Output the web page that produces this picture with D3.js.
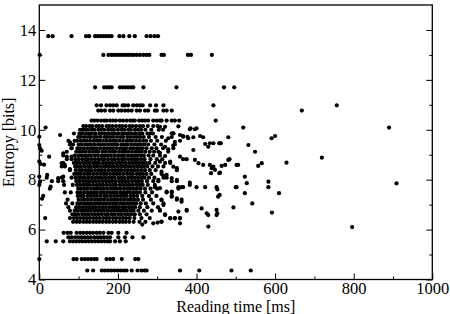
<!DOCTYPE html>
<html>
<head>
<meta charset="utf-8">
<script src="https://cdn.jsdelivr.net/npm/d3@7"></script>
<style>
  body { margin: 0; background: #fff; }
  text { font-family: "Liberation Serif", "Times New Roman", serif; }
</style>
</head>
<body>
<svg id="chart" width="450" height="314"></svg>
<script>
// tick labels
const xTicks = [0, 200, 400, 600, 800, 1000];
const xMinor = [100, 300, 500, 700, 900];
const yTicks = [4, 6, 8, 10, 12, 14];
const yMinor = [5, 7, 9, 11, 13];

const rowEntropy = [
  13.75, 13.0, 11.7, 10.98, 10.77, 10.37,
  10.15, 10.00, 9.85, 9.71, 9.56, 9.41, 9.26, 9.12, 8.97, 8.82, 8.67, 8.53, 8.38, 8.23,
  8.08, 7.94, 7.79, 7.64, 7.49, 7.35, 7.20, 7.05, 6.90, 6.76, 6.61, 6.46, 6.31,
  5.87, 5.69, 5.53, 4.82, 4.36
];
const rowTimes = [
  [23, 34, 82, 119, 127, 142, 149, 156, 163, 170, 177, 184, 204, 214, 229, 243, 273, 283, 293, 302],
  [1, 163, 176, 184, 191, 198, 205, 212, 219, 226, 233, 240, 248, 256, 265, 273, 280, 311, 317, 378, 386, 439],
  [142, 165, 172, 178, 184, 205, 212, 219, 226, 233, 239, 265, 349, 470, 496],
  [146, 157, 171, 180, 188, 197, 212, 218, 226, 239, 248, 256, 263, 282, 297, 316, 443, 757],
  [150, 158, 167, 180, 188, 201, 209, 218, 226, 235, 248, 256, 269, 277, 294, 299, 316, 324, 337, 668],
  [133, 140, 148, 157, 165, 171, 180, 188, 195, 205, 213, 222, 231, 237, 243, 254, 262, 269, 277, 290, 299, 307, 311, 324, 337, 345, 356, 449],
  [112, 119, 128, 135, 145, 152, 160, 171, 178, 186, 195, 204, 211, 220, 230, 237, 246, 256, 264, 276, 290, 301],
  [104, 110, 117, 124, 133, 140, 150, 158, 165, 175, 183, 190, 200, 209, 216, 226, 233, 243, 251, 259, 270, 285, 304, 315],
  [88, 102, 110, 119, 127, 134, 143, 153, 160, 168, 177, 186, 193, 202, 211, 219, 227, 236, 245, 254, 262, 275, 282, 289, 341],
  [99, 106, 115, 124, 131, 140, 147, 156, 166, 173, 181, 189, 198, 207, 214, 224, 232, 241, 249, 257, 266, 279, 296, 312, 337],
  [74, 90, 96, 105, 112, 120, 129, 138, 146, 153, 162, 171, 180, 188, 195, 204, 213, 222, 230, 237, 246, 255, 264, 272, 284, 300, 322, 358],
  [78, 86, 100, 108, 117, 125, 132, 141, 150, 158, 166, 175, 184, 192, 199, 209, 217, 225, 234, 243, 251, 259, 268, 277, 293, 310, 345],
  [82, 97, 104, 113, 122, 131, 138, 146, 155, 164, 172, 180, 188, 197, 206, 214, 221, 231, 239, 248, 256, 263, 273, 286, 298, 315, 341],
  [70, 94, 103, 110, 118, 127, 136, 144, 151, 161, 169, 178, 186, 193, 203, 212, 219, 227, 236, 245, 253, 261, 270, 281, 292, 303, 328],
  [61, 90, 99, 107, 116, 124, 131, 140, 149, 158, 166, 173, 182, 191, 200, 208, 215, 224, 233, 241, 249, 258, 266, 278, 290, 307],
  [70, 82, 92, 100, 109, 117, 124, 133, 142, 151, 159, 166, 175, 184, 192, 201, 210, 217, 226, 235, 243, 250, 259, 268, 283, 299, 313],
  [61, 88, 95, 103, 112, 120, 128, 137, 145, 152, 162, 170, 178, 187, 196, 204, 211, 220, 229, 238, 246, 254, 263, 271, 280, 295, 320, 333],
  [57, 65, 91, 98, 106, 115, 124, 131, 140, 148, 157, 166, 174, 182, 190, 199, 208, 216, 224, 232, 241, 250, 258, 266, 275, 288, 302, 316],
  [78, 93, 102, 109, 118, 126, 133, 142, 151, 159, 167, 176, 185, 193, 201, 209, 218, 226, 235, 243, 251, 260, 269, 281, 296, 350],
  [89, 97, 105, 114, 122, 129, 138, 147, 156, 164, 171, 180, 189, 197, 205, 214, 223, 231, 238, 248, 256, 264, 273, 285, 311],
  [19, 57, 82, 92, 101, 108, 116, 125, 134, 142, 150, 158, 167, 176, 184, 191, 201, 209, 216, 226, 234, 242, 251, 260, 268, 279, 293, 316, 324],
  [32, 48, 61, 94, 102, 111, 119, 127, 135, 143, 152, 161, 169, 177, 185, 194, 203, 211, 219, 227, 236, 245, 253, 261, 274, 290, 303, 337, 350],
  [63, 85, 96, 104, 113, 121, 128, 137, 146, 154, 162, 171, 180, 188, 195, 205, 213, 221, 229, 238, 247, 255, 263, 276, 294, 383],
  [27, 99, 107, 115, 123, 132, 141, 149, 157, 165, 174, 183, 191, 199, 207, 216, 225, 233, 241, 249, 258, 269, 283, 300, 354],
  [65, 80, 97, 105, 114, 122, 130, 138, 146, 155, 163, 172, 180, 189, 197, 206, 214, 222, 230, 239, 247, 256, 270, 287, 324, 337],
  [10, 98, 106, 113, 123, 131, 139, 147, 156, 165, 172, 181, 190, 198, 207, 215, 222, 232, 240, 249, 262, 279, 298, 337],
  [72, 100, 109, 116, 124, 133, 142, 150, 158, 166, 175, 184, 192, 200, 208, 217, 226, 234, 242, 251, 264, 284, 311, 350, 362],
  [68, 84, 97, 105, 114, 122, 130, 139, 147, 155, 164, 172, 180, 189, 197, 206, 214, 223, 231, 239, 247, 258, 271, 290, 316],
  [74, 94, 102, 111, 119, 127, 135, 143, 152, 161, 169, 178, 186, 194, 202, 211, 219, 228, 236, 244, 256, 275, 302],
  [78, 90, 98, 107, 114, 123, 131, 140, 148, 156, 164, 173, 182, 190, 198, 206, 215, 223, 232, 240, 252, 266, 286, 307, 375],
  [84, 92, 100, 109, 117, 125, 134, 142, 150, 159, 168, 175, 184, 192, 201, 209, 218, 226, 234, 243, 256, 273, 320],
  [15, 78, 88, 96, 104, 113, 121, 129, 138, 146, 154, 163, 171, 179, 188, 196, 205, 213, 221, 230, 242, 260, 281, 333, 345, 358],
  [86, 95, 103, 112, 120, 128, 137, 145, 153, 161, 170, 178, 187, 195, 204, 212, 220, 229, 240, 255, 270, 311],
  [62, 72, 80, 95, 104, 112, 121, 129, 137, 146, 154, 163, 176, 184, 201, 222],
  [74, 82, 91, 99, 107, 115, 123, 131, 140, 148, 156, 164, 172, 180, 201, 218, 237, 265],
  [19, 42, 61, 78, 86, 94, 102, 110, 118, 126, 134, 142, 150, 158, 166, 174, 180, 193, 205, 220],
  [0, 87, 95, 108, 116, 124, 132, 140, 146, 171, 180, 188, 210, 244, 252],
  [122, 137, 159, 167, 175, 183, 191, 199, 207, 215, 222, 235, 250, 260, 268, 273, 358, 407, 489, 538]
];

// loose points that sit off the rows
const looseTime = [
  0, 0, 2, 6, 0, 3, 0, 2, 0, 7, 16, 12, 20, 29,
  53, 78, 82, 61, 70, 82, 57, 65, 78, 61, 48, 25,
  307, 320, 354, 383, 396, 341, 358, 366, 379, 392, 409, 417, 422, 430, 443, 460, 481,
  392, 396, 405, 417, 434, 439, 447, 460, 464, 473, 481, 502, 358, 366, 375, 341, 350,
  324, 337, 350, 366, 383, 400, 422, 451, 502, 455, 413, 430, 451, 451, 494, 430,
  337, 350, 362, 354, 375, 320, 333, 345, 358, 358, 311, 316, 307, 311, 324, 337, 354, 362, 307,
  320, 328, 307, 320, 333, 307, 311, 316, 303, 294, 341, 345, 328, 337,
  519, 532, 549, 591, 600, 629, 557, 566, 523, 528, 523, 583, 583, 610, 542, 500, 484, 506,
  458, 462, 434, 592, 796, 909, 890, 719, 458, 459, 453, 443, 437, 453, 426, 400, 385, 377, 366,
  262, 290, 301
];
const looseEntropy = [
  9.72, 9.39, 9.26, 9.16, 8.73, 8.63, 8.12, 7.92, 7.79, 7.24, 10.09, 8.6, 8.19, 7.72,
  9.79, 9.5, 9.26, 9.06, 8.92, 8.92, 8.66, 8.59, 8.42, 8.12, 8.06, 8.92,
  10.12, 10.12, 10.14, 10.02, 10.02, 9.86, 9.79, 9.75, 9.66, 9.70, 9.75, 9.70, 9.43, 9.32, 9.46, 9.46, 9.70,
  9.19, 8.79, 8.66, 8.59, 8.59, 8.46, 8.39, 8.28, 8.55, 8.59, 8.79, 8.59, 8.92, 8.82, 8.82, 8.52, 8.46,
  8.19, 8.06, 7.99, 7.70, 7.88, 7.70, 7.70, 7.70, 7.70, 7.32, 6.85, 6.58, 6.79, 6.58, 6.89, 6.12,
  7.32, 7.25, 7.12, 6.72, 6.79, 6.58, 6.45, 6.45, 6.45, 6.25, 7.19, 6.99, 6.79, 6.32, 7.52, 7.52, 7.70, 7.70, 7.66,
  9.32, 9.22, 9.08, 8.95, 8.72, 8.72, 8.32, 8.15, 7.99, 7.70, 9.38, 9.52, 9.66, 9.86,
  10.09, 9.39, 9.12, 9.66, 9.75, 8.68, 8.55, 8.66, 8.12, 7.86, 7.46, 7.92, 7.70, 7.46, 7.05, 7.70, 8.82, 8.59,
  9.46, 9.46, 9.46, 6.68, 6.10, 7.85, 10.09, 8.88, 8.26, 7.39, 7.61, 8.52, 8.26, 6.65, 6.65, 10.06, 10.06, 9.72, 9.72,
  6.2, 6.25, 6.28
];

const points = [];
rowEntropy.forEach((e, i) => rowTimes[i].forEach(t => points.push({ t: t, e: e })));
looseTime.forEach((t, i) => points.push({ t: t, e: looseEntropy[i] }));

const svg = d3.select('#chart');

const x = d3.scaleLinear().domain([0, 1000]).range([39.3, 432.3]);
const y = d3.scaleLinear().domain([4, 15]).range([279.5, 5]);

// points
svg.append('g')
  .selectAll('circle')
  .data(points)
  .join('circle')
  .attr('cx', d => x(d.t))
  .attr('cy', d => y(d.e))
  .attr('r', 2.1)
  .attr('fill', '#000');

// axes with inward ticks
function style(g) {
  g.select('.domain').remove();
  g.selectAll('line').attr('stroke', '#000').attr('stroke-width', 1);
  g.selectAll('text')
    .attr('fill', '#000')
    .style('font-family', '"Liberation Serif", "Times New Roman", serif')
    .style('font-size', '16.5px');
}

svg.append('g')
  .attr('transform', `translate(0,${y(4)})`)
  .call(d3.axisBottom(x).tickValues(xTicks).tickSize(-6).tickPadding(3).tickFormat(d3.format('d')))
  .call(style);
svg.append('g')
  .attr('transform', `translate(0,${y(4)})`)
  .call(d3.axisBottom(x).tickValues(xMinor).tickSize(-3).tickFormat(''))
  .call(style);

svg.append('g')
  .attr('transform', `translate(${x(0)},0)`)
  .call(d3.axisLeft(y).tickValues(yTicks).tickSize(-6).tickPadding(3).tickFormat(d3.format('d')))
  .call(style);
svg.append('g')
  .attr('transform', `translate(${x(0)},0)`)
  .call(d3.axisLeft(y).tickValues(yMinor).tickSize(-3).tickFormat(''))
  .call(style);

svg.append('g')
  .attr('transform', `translate(${x(1000)},0)`)
  .call(d3.axisRight(y).tickValues(yTicks).tickSize(-6).tickFormat(''))
  .call(style);
svg.append('g')
  .attr('transform', `translate(${x(1000)},0)`)
  .call(d3.axisRight(y).tickValues(yMinor).tickSize(-3).tickFormat(''))
  .call(style);

// frame
svg.append('rect')
  .attr('x', x(0))
  .attr('y', y(15))
  .attr('width', x(1000) - x(0))
  .attr('height', y(4) - y(15))
  .attr('fill', 'none')
  .attr('stroke', '#000')
  .attr('stroke-width', 1.3);

// axis titles
svg.append('text')
  .attr('x', (x(0) + x(1000)) / 2)
  .attr('y', 312)
  .attr('text-anchor', 'middle')
  .style('font-size', '16px')
  .text('Reading time [ms]');

svg.append('text')
  .attr('transform', `translate(14,${(y(4) + y(15)) / 2}) rotate(-90)`)
  .attr('text-anchor', 'middle')
  .style('font-size', '16px')
  .text('Entropy [bits]');
</script>
</body>
</html>
